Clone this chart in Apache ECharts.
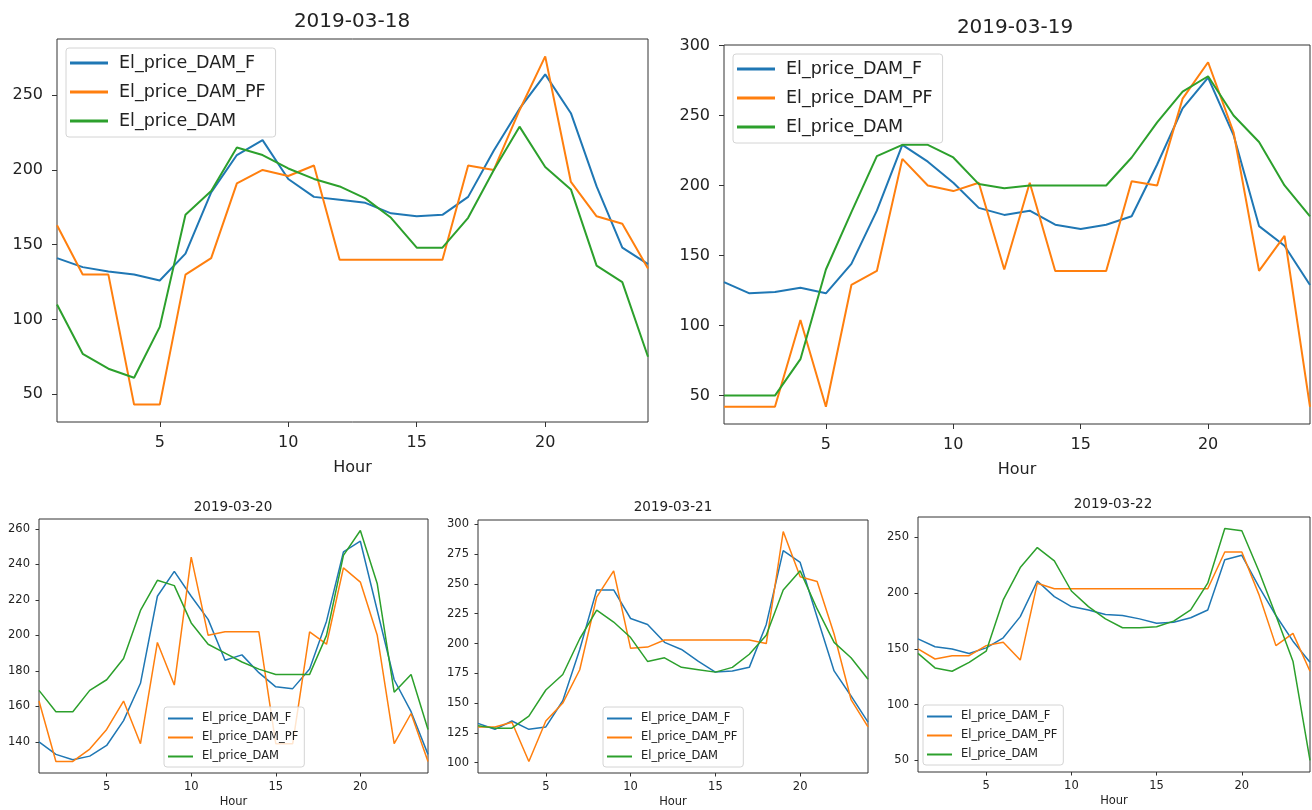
<!DOCTYPE html>
<html>
<head>
<meta charset="utf-8">
<script src="https://cdn.jsdelivr.net/npm/echarts@6/dist/echarts.min.js"></script>
<style>
  html, body { margin: 0; padding: 0; background: #ffffff; }
  #chart { width: 1312px; height: 810px; }
</style>
</head>
<body>
<div id="chart"></div>
<script>
// Hourly day-ahead electricity prices: forecast (F), previous forecast (PF) and actual DAM
const hours = [1, 2, 3, 4, 5, 6, 7, 8, 9, 10, 11, 12, 13, 14, 15, 16, 17, 18, 19, 20, 21, 22, 23, 24];
const seriesNames = ['El_price_DAM_F', 'El_price_DAM_PF', 'El_price_DAM'];
const seriesColors = ['#1f77b4', '#ff7f0e', '#2ca02c'];
const days = ['2019-03-18', '2019-03-19', '2019-03-20', '2019-03-21', '2019-03-22'];
const xTicks = [5, 10, 15, 20];

const f18   = [141, 135, 132, 130, 126, 144, 185, 210, 220, 194, 182, 180, 178, 171, 169, 170, 182, 213, 241, 264, 238, 189, 148, 137];
const pf18  = [163, 130, 130, 43, 43, 130, 141, 191, 200, 196, 203, 140, 140, 140, 140, 140, 203, 200, 240, 276, 192, 169, 164, 134];
const dam18 = [110, 77, 67, 61, 95, 170, 186, 215, 210, 201, 194, 189, 181, 168, 148, 148, 168, 200, 229, 202, 187, 136, 125, 75];
const yTicks18 = [50, 100, 150, 200, 250];

const f19   = [131, 123, 124, 127, 123, 144, 182, 229, 217, 202, 184, 179, 182, 172, 169, 172, 178, 215, 255, 277, 236, 171, 157, 129];
const pf19  = [42, 42, 42, 104, 42, 129, 139, 219, 200, 196, 202, 140, 202, 139, 139, 139, 203, 200, 262, 288, 238, 139, 164, 42];
const dam19 = [50, 50, 50, 76, 140, 181, 221, 229, 229, 220, 201, 198, 200, 200, 200, 200, 220, 245, 267, 278, 250, 231, 200, 178];
const yTicks19 = [50, 100, 150, 200, 250, 300];

const f20   = [140, 133, 130, 132, 138, 152, 173, 222, 236, 222, 209, 186, 189, 179, 171, 170, 181, 208, 247, 253, 214, 175, 157, 133];
const pf20  = [163, 129, 129, 136, 147, 163, 139, 196, 172, 244, 200, 202, 202, 202, 139, 139, 202, 195, 238, 230, 200, 139, 156, 129];
const dam20 = [169, 157, 157, 169, 175, 187, 214, 231, 228, 207, 195, 190, 185, 181, 178, 178, 178, 200, 245, 259, 229, 168, 178, 147];
const yTicks20 = [140, 160, 180, 200, 220, 240, 260];

const f21   = [133, 128, 135, 128, 130, 152, 195, 245, 245, 221, 216, 201, 195, 185, 176, 177, 180, 216, 278, 268, 222, 177, 156, 134];
const pf21  = [130, 130, 134, 101, 135, 150, 178, 239, 261, 196, 197, 203, 203, 203, 203, 203, 203, 200, 294, 256, 252, 208, 153, 130];
const dam21 = [131, 129, 129, 139, 161, 174, 204, 228, 218, 205, 185, 188, 180, 178, 176, 180, 191, 207, 245, 261, 229, 201, 188, 170];
const yTicks21 = [100, 125, 150, 175, 200, 225, 250, 275, 300];

const f22   = [159, 152, 150, 146, 151, 160, 179, 211, 197, 188, 185, 181, 180, 177, 173, 174, 178, 185, 230, 234, 206, 180, 157, 138];
const pf22  = [150, 141, 144, 144, 153, 156, 140, 209, 204, 204, 204, 204, 204, 204, 204, 204, 204, 204, 237, 237, 199, 153, 164, 130];
const dam22 = [146, 133, 130, 138, 148, 194, 223, 241, 229, 202, 188, 177, 169, 169, 170, 175, 185, 209, 258, 256, 220, 180, 139, 50];
const yTicks22 = [50, 100, 150, 200, 250];

const FONT = 'DejaVu Sans';
const TEXT = '#222222';
const FRAME = '#333333';

// Panel geometry and styling: two large panels on top, three small ones below
const panels = [
  { values: [f18, pf18, dam18], ticks: yTicks18, grid: { left: 57, top: 39, width: 591, height: 383 },
    title: { x: 352, y: 12 }, legend: { left: 66, top: 48 }, big: true },
  { values: [f19, pf19, dam19], ticks: yTicks19, grid: { left: 724, top: 45, width: 586, height: 379 },
    title: { x: 1015, y: 18 }, legend: { left: 733, top: 54 }, big: true },
  { values: [f20, pf20, dam20], ticks: yTicks20, grid: { left: 39, top: 519, width: 389, height: 254 },
    title: { x: 233, y: 500 }, legend: { left: 164, top: 707 }, big: false },
  { values: [f21, pf21, dam21], ticks: yTicks21, grid: { left: 478, top: 520, width: 390, height: 253 },
    title: { x: 673, y: 500 }, legend: { left: 603, top: 707 }, big: false },
  { values: [f22, pf22, dam22], ticks: yTicks22, grid: { left: 918, top: 517, width: 392, height: 255 },
    title: { x: 1113, y: 497 }, legend: { left: 923, top: 705 }, big: false }
];

// matplotlib-style autoscale: data range plus 5% margin on each side
function paddedRange(arrays) {
  const all = [].concat(...arrays);
  const lo = Math.min(...all), hi = Math.max(...all);
  const m = (hi - lo) * 0.05;
  return [lo - m, hi + m];
}

const option = {
  animation: false,
  backgroundColor: '#ffffff',
  textStyle: { fontFamily: FONT, color: TEXT },
  title: [], legend: [], grid: [], xAxis: [], yAxis: [], series: []
};

panels.forEach((p, i) => {
  const fs = p.big ? 16 : 11.5;
  const [ymin, ymax] = paddedRange(p.values);

  option.title.push({
    text: days[i],
    left: p.title.x, top: p.title.y, textAlign: 'left',
    padding: 0,
    textStyle: { fontFamily: FONT, fontWeight: 'normal', color: TEXT, fontSize: p.big ? 20 : 13.5 },
    textAlign: 'center'
  });

  option.grid.push({
    left: p.grid.left, top: p.grid.top, width: p.grid.width, height: p.grid.height,
    show: true, borderColor: FRAME, borderWidth: 1, backgroundColor: 'transparent',
    containLabel: false, outerBoundsMode: 'none'
  });

  option.xAxis.push({
    type: 'value', gridIndex: i, min: 1, max: 24,
    name: 'Hour', nameLocation: 'middle', nameGap: p.big ? 38 : 23,
    nameTextStyle: { fontFamily: FONT, color: TEXT, fontSize: fs },
    axisLine: { show: false },
    axisTick: { show: true, inside: false, length: p.big ? 5 : 3.5, customValues: xTicks,
                lineStyle: { color: FRAME, width: 1 } },
    axisLabel: { show: true, customValues: xTicks, margin: p.big ? 13 : 8.5,
                 fontFamily: FONT, color: TEXT, fontSize: fs },
    splitLine: { show: false }
  });

  option.yAxis.push({
    type: 'value', gridIndex: i, min: ymin, max: ymax,
    axisLine: { show: false },
    axisTick: { show: true, inside: false, length: p.big ? 5 : 3.5, customValues: p.ticks,
                lineStyle: { color: FRAME, width: 1 } },
    axisLabel: { show: true, customValues: p.ticks, margin: p.big ? 14 : 9,
                 fontFamily: FONT, color: TEXT, fontSize: fs },
    splitLine: { show: false }
  });

  p.values.forEach((vals, k) => {
    option.series.push({
      type: 'line', name: seriesNames[k],
      xAxisIndex: i, yAxisIndex: i,
      data: hours.map((h, j) => [h, vals[j]]),
      showSymbol: false, symbol: 'none',
      color: seriesColors[k],
      lineStyle: { width: p.big ? 2 : 1.5, color: seriesColors[k] },
      clip: true, z: 2 + k
    });
  });

  option.legend.push({
    data: seriesNames,
    orient: 'vertical',
    left: p.legend.left, top: p.legend.top,
    icon: 'rect',
    itemWidth: p.big ? 38 : 25,
    itemHeight: p.big ? 3 : 2,
    itemGap: p.big ? 9 : 6,
    padding: p.big ? [5, 10, 6, 4] : [5, 6, 4, 4],
    backgroundColor: 'rgba(255,255,255,0.8)',
    borderColor: '#d4d4d4', borderWidth: 1, borderRadius: 3,
    selectedMode: false,
    textStyle: { fontFamily: FONT, color: TEXT, fontSize: p.big ? 17.5 : 11.5,
                 lineHeight: p.big ? 20 : 13, padding: [0, 0, 0, p.big ? 6 : 4] },
    z: 10
  });
});

const chart = echarts.init(document.getElementById('chart'), null, { renderer: 'canvas' });
chart.setOption(option);
</script>
</body>
</html>
